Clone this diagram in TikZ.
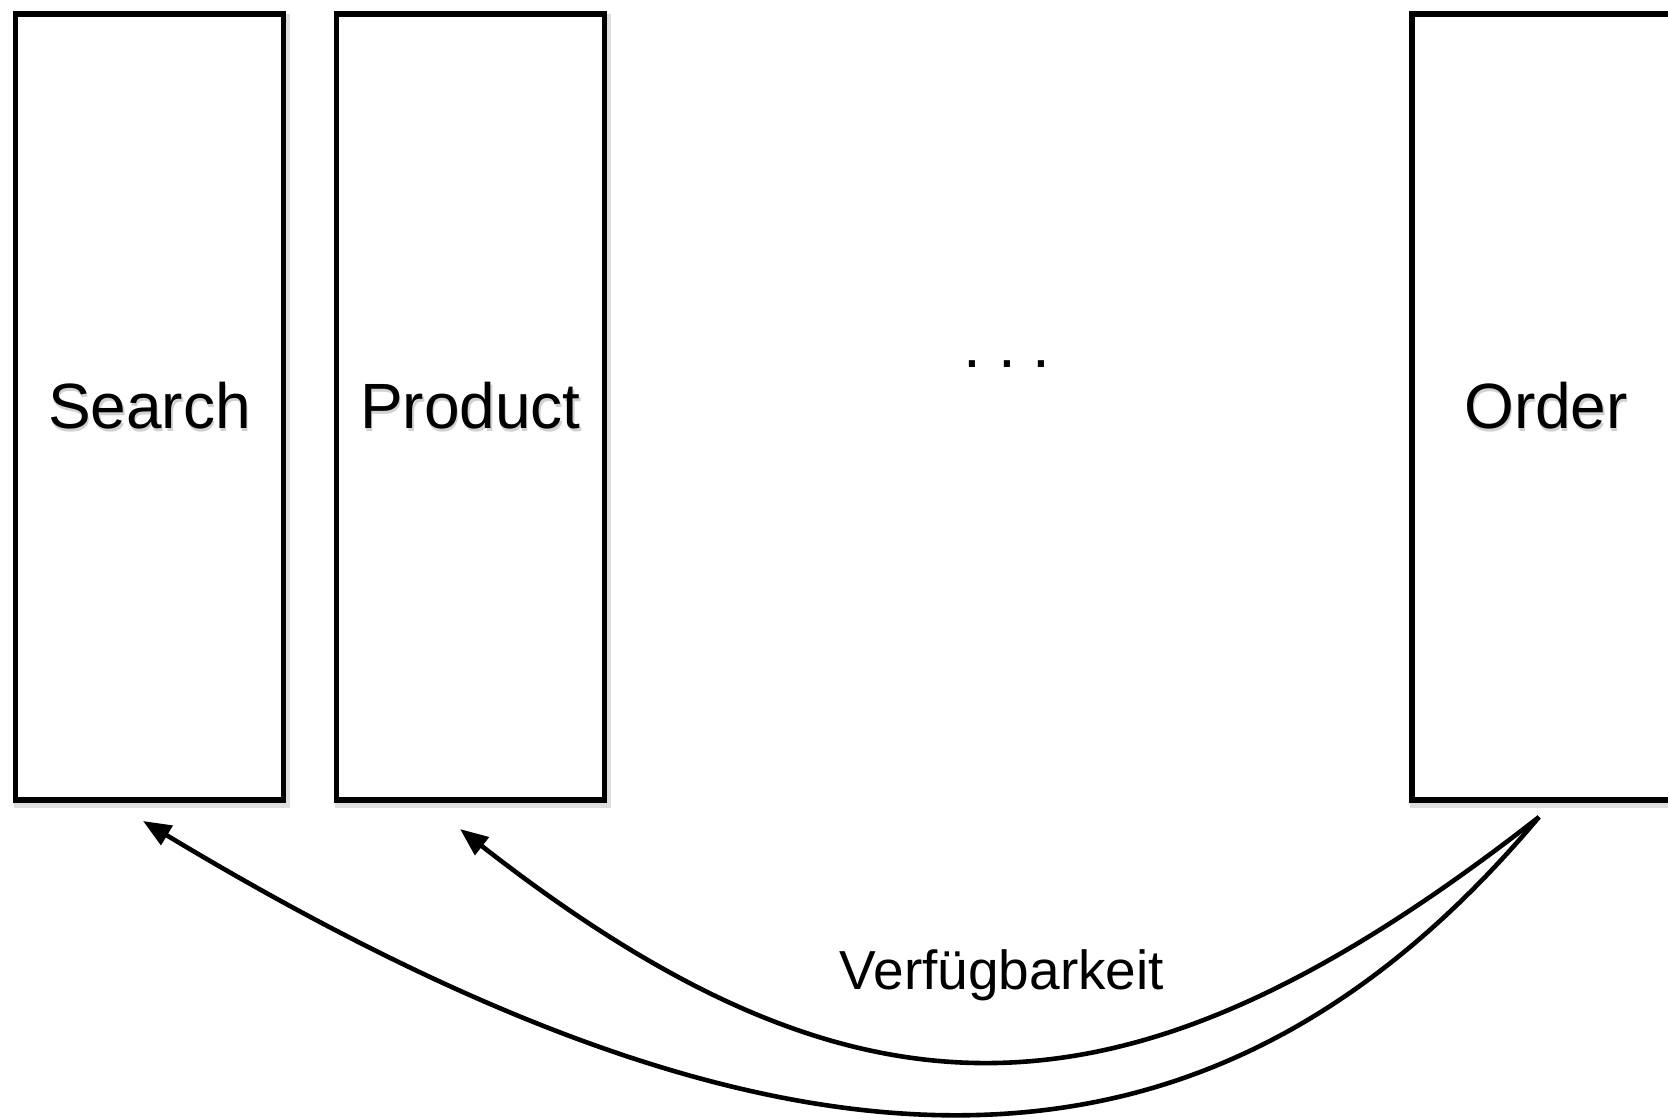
\documentclass[tikz,border=0pt]{standalone}
\usepackage{fontspec}
\setmainfont{Liberation Sans}
\usetikzlibrary{arrows.meta}
\newcommand\shtext[1]{\makebox[0pt][l]{\raisebox{-1.6pt}{\hspace{0.7pt}\textcolor{black!18}{#1}}}#1}
\begin{document}
\begin{tikzpicture}[x=0.5pt,y=-0.5pt,
  panel/.style={draw, line width=2.7pt, fill=white, minimum width=134pt, minimum height=393pt, inner sep=0pt,
    font=\fontsize{32}{38}\selectfont,
    preaction={draw=black, draw opacity=0.13, line width=4pt, transform canvas={shift={(1pt,-2pt)}}}},
  conn/.style={line width=2.3pt, -{Triangle[length=14pt,width=11pt]}},
  lbl/.style={font=\fontsize{27.5}{32}\selectfont, anchor=base, inner sep=0pt}]
\useasboundingbox (0,0) rectangle (1668,1119);
\node[panel] (search)  at (149.5,407) {\shtext{Search}};
\node[panel] (product) at (470.5,407) {\shtext{Product}};
\node[panel] (order)   at (1546,407) {\shtext{Order}};
\node[font=\fontsize{32}{38}\selectfont, inner sep=0pt] (dots) at (1007,364) {.\hspace{8.4pt}.\hspace{8.4pt}.};
\coordinate (os) at (1539,817);
\coordinate (pe) at (460,829);
\coordinate (se) at (143,821);
\draw[conn] (os) .. controls (1133,1134) and (866,1146) .. (pe);
\draw[conn] (os) .. controls (1217,1200) and (811,1223) .. (se);
\node[lbl] (verf) at (1002,989) {Verfügbarkeit};
\end{tikzpicture}
\end{document}
